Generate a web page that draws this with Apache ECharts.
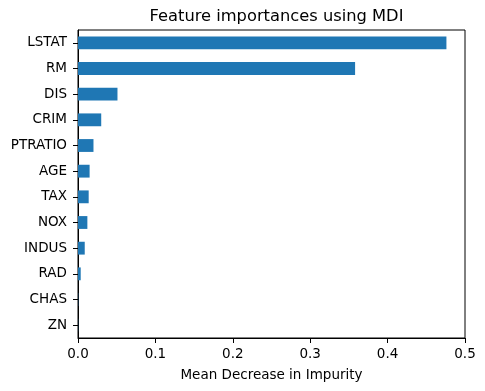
<!DOCTYPE html>
<html>
<head>
<meta charset="utf-8">
<script src="https://cdn.jsdelivr.net/npm/echarts@6/dist/echarts.min.js"></script>
<style>html,body{margin:0;padding:0;background:#fff}#c{width:485px;height:391px}</style>
</head>
<body>
<div id="c"></div>
<script>
const features = ['LSTAT','RM','DIS','CRIM','PTRATIO','AGE','TAX','NOX','INDUS','RAD','CHAS','ZN'];
const importances = [0.476,0.358,0.051,0.030,0.020,0.015,0.0138,0.0121,0.0087,0.0035,0.0003,0.0002];
const xTicks = [0,0.1,0.2,0.3,0.4,0.5];

const font = 'DejaVu Sans';
const chart = echarts.init(document.getElementById('c'), null, {renderer:'canvas'});
chart.setOption({
  animation:false,
  backgroundColor:'#fff',
  title:{
    text:'Feature importances using MDI',
    left:271.5, top:4, textAlign:'center',
    textStyle:{fontFamily:font,fontSize:16.3,fontWeight:'normal',color:'#000'}
  },
  grid:{left:78,right:20,top:30,bottom:53,show:true,borderColor:'#000',borderWidth:1,backgroundColor:'transparent'},
  xAxis:{
    type:'value', min:xTicks[0], max:xTicks[xTicks.length-1], interval:0.1,
    name:'Mean Decrease in Impurity', nameLocation:'middle', nameGap:30,
    nameTextStyle:{fontFamily:font,fontSize:13.5,color:'#000'},
    axisLine:{show:true,lineStyle:{color:'#000',width:1}},
    axisTick:{show:true,length:5,lineStyle:{color:'#000'}},
    axisLabel:{fontFamily:font,fontSize:13.5,color:'#000',margin:9,formatter:v=>v.toFixed(1)},
    splitLine:{show:false}
  },
  yAxis:{
    type:'category', data:features, inverse:true,
    axisLine:{show:true,lineStyle:{color:'#000',width:1}},
    axisTick:{show:true,alignWithLabel:true,length:5,lineStyle:{color:'#000'}},
    axisLabel:{fontFamily:font,fontSize:13.5,color:'#000',margin:11}
  },
  series:[{
    type:'bar', data:importances, barWidth:'50%',
    itemStyle:{color:'#1f77b4'}
  }]
});
</script>
</body>
</html>
